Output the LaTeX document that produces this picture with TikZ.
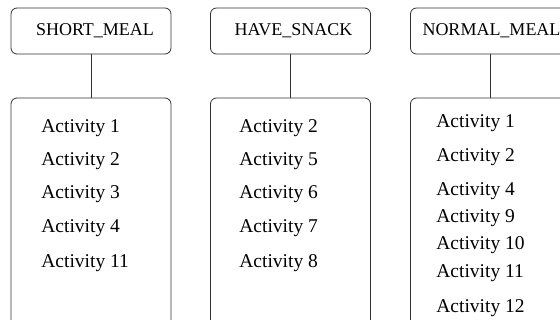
\documentclass[tikz,border=0pt]{standalone}
\usepackage{fontspec}
\setmainfont{Liberation Serif}

\tikzset{
  header/.style={draw=black!80, rounded corners=6pt, minimum width=160pt, minimum height=46pt, inner sep=0pt, font=\fontsize{18}{20}\selectfont},
  listbox/.style={draw=black!80, rounded corners=6pt, minimum width=160pt, minimum height=240pt, inner sep=0pt},
  item/.style={anchor=west, inner sep=0pt, font=\fontsize{19.5}{22}\selectfont}
}

\begin{document}
\begin{tikzpicture}[x=1pt, y=-1pt, line width=0.8pt]
        \useasboundingbox (0,0) rectangle (560,320);
        \clip (0,0) rectangle (560,320);

        \node[header] (short) at (91,31) {\hspace{8pt}SHORT\_MEAL};
        \node[header] (snack) at (290.5,31) {\hspace{6pt}HAVE\_SNACK};
        \node[header] (normal) at (490.5,31) {\hspace{2pt}NORMAL\_MEAL};

        \node[listbox] (shortbox) at (91,218) {};
        \node[listbox] (snackbox) at (290.5,218) {};
        \node[listbox] (normalbox) at (490.5,218) {};

        \draw[black!80] (short) -- (shortbox);
        \draw[black!80] (snack) -- (snackbox);
        \draw[black!80] (normal) -- (normalbox);

        \foreach \t/\y in {1/128, 2/161, 3/194, 4/228, 11/263}
            \node[item] (short-\t) at (41,\y) {Activity \t};
        \foreach \t/\y in {2/128, 5/161, 6/194, 7/228, 8/263}
            \node[item] (snack-\t) at (239,\y) {Activity \t};
        \foreach \t/\y in {1/123, 2/157, 4/191, 9/218, 10/245, 11/273, 12/308}
            \node[item] (normal-\t) at (436,\y) {Activity \t};

    \end{tikzpicture}
\end{document}
